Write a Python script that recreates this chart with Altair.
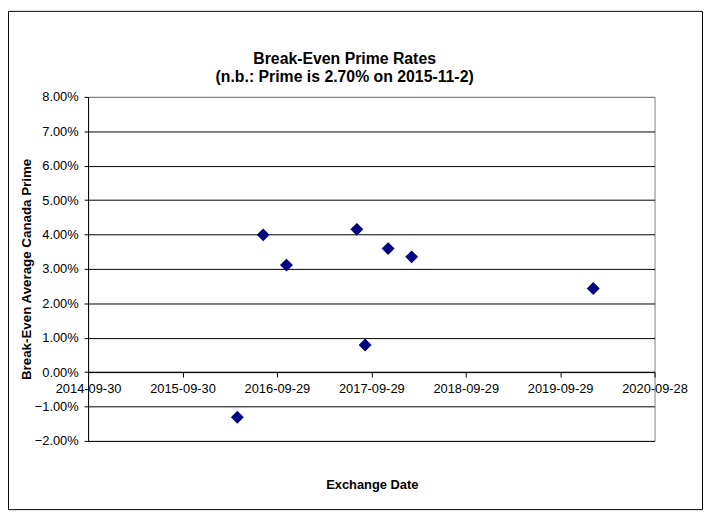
import altair as alt
import pandas as pd

# Data
dates = ["2016-04-29", "2016-08-07", "2016-11-05", "2017-08-04",
         "2017-09-05", "2017-12-03", "2018-03-04", "2020-02-04"]
rates = [-0.0131, 0.0399, 0.0311, 0.0415, 0.0079, 0.0359, 0.0335, 0.0243]

tick_dates = ["2014-09-30", "2015-09-30", "2016-09-29", "2017-09-29",
              "2018-09-29", "2019-09-29", "2020-09-28"]
y_ticks = [-0.02, -0.01, 0.0, 0.01, 0.02, 0.03, 0.04, 0.05, 0.06, 0.07, 0.08]
title_lines = ["Break-Even Prime Rates", "(n.b.: Prime is 2.70% on 2015-11-2)"]
x_title = "Exchange Date"
y_title = "Break-Even Average Canada Prime"


def dt(s):
    y, m, d = map(int, s.split("-"))
    return alt.DateTime(year=y, month=m, date=d, utc=True)


df = pd.DataFrame({"date": dates, "rate": rates})

FONT = "Liberation Sans"
W, H = 573, 348
PAD = {"left": 81, "top": 87, "right": 49, "bottom": 70}

points = alt.Chart(df).mark_point(
    shape="diamond", filled=True, size=170, color="#000080", opacity=1
).encode(
    x=alt.X(
        "date:T",
        scale=alt.Scale(type="utc", domain=[dt(tick_dates[0]), dt(tick_dates[-1])], nice=False),
        axis=alt.Axis(
            values=[dt(s) for s in tick_dates],
            labelExpr="utcFormat(datum.value, '%Y-%m-%d')",
            title=x_title, offset=-69.6, grid=False, tickSize=5, labelPadding=6,
            titleX=287, titleY=114, titleBaseline="middle", titleAlign="center",
            labelOverlap=False, labelFlush=False,
            domainColor="black", tickColor="black",
        ),
    ),
    y=alt.Y(
        "rate:Q",
        scale=alt.Scale(domain=[-0.02, 0.08], nice=False, zero=False),
        axis=alt.Axis(
            values=y_ticks, format=".2%", title=y_title, grid=True,
            gridColor=alt.condition("datum.value >= 0.079", alt.value("#808080"), alt.value("black")),
            gridOpacity=1, tickSize=4, labelPadding=6,
            titleX=-62, titleY=174, titleAngle=-90, titleBaseline="middle",
            titleAlign="center", domainColor="black", tickColor="black",
            titleFontSize=13.5,
        ),
    ),
)

# outer chart-area frame (decoration, as in the spreadsheet chart)
frame = alt.Chart(pd.DataFrame({"k": [0]})).mark_rect(
    fill=None, stroke="black", strokeWidth=1
).encode(
    x=alt.value(-PAD["left"] + 0.5),
    x2=alt.value(W + PAD["right"] - 0.5),
    y=alt.value(-PAD["top"] + 0.5),
    y2=alt.value(H + PAD["bottom"] - 0.5),
)

chart = alt.layer(frame, points).properties(
    width=W,
    height=H,
    padding=PAD,
    autosize=alt.AutoSizeParams(type="none"),
    title=alt.TitleParams(
        text=title_lines, fontSize=16, fontWeight="bold", dx=-27, dy=82.5, offset=8,
        lineHeight=18, color="black", font=FONT, frame="group", anchor="middle",
    ),
).configure(
    background="white",
    font=FONT,
).configure_view(
    stroke="#808080", strokeWidth=1,
).configure_axis(
    labelColor="black", titleColor="black", labelFontSize=13, titleFontSize=13,
    titleFontWeight="bold", labelFont=FONT, titleFont=FONT, domainWidth=1, gridWidth=1,
)

chart.save("out.html", embed_options={"renderer": "svg", "actions": False})
